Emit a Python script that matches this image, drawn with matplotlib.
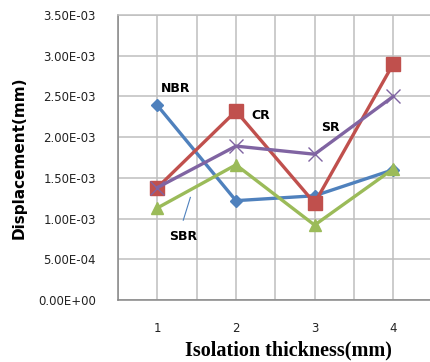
import numpy as np
import matplotlib
matplotlib.use("Agg")
import matplotlib.pyplot as plt

# values
thickness = [1, 2, 3, 4]
nbr = [2.39e-3, 1.22e-3, 1.28e-3, 1.60e-3]
cr = [1.38e-3, 2.32e-3, 1.19e-3, 2.90e-3]
sr = [1.38e-3, 1.89e-3, 1.79e-3, 2.50e-3]
sbr = [1.13e-3, 1.66e-3, 0.92e-3, 1.61e-3]
yticks = [0, 5e-4, 1e-3, 1.5e-3, 2e-3, 2.5e-3, 3e-3, 3.5e-3]
ytick_labels = ["0.00E+00", "5.00E-04", "1.00E-03", "1.50E-03",
                "2.00E-03", "2.50E-03", "3.00E-03", "3.50E-03"]

fig = plt.figure(figsize=(4.31, 3.62), dpi=100)
ax = fig.add_axes([118/431, 1 - 300/362, 1 - 118/431, 285/362])

lw = 2.4
ax.plot(thickness, nbr, color="#4F81BD", lw=lw, marker="D", ms=6, zorder=3)
ax.plot(thickness, cr, color="#C0504D", lw=lw, marker="s", ms=9.5, zorder=3)
ax.plot(thickness, sr, color="#8064A2", lw=lw, marker="x", ms=10, mew=1.0, zorder=3)
ax.plot(thickness, sbr, color="#9BBB59", lw=lw, marker="^", ms=9, zorder=3)

ax.set_xlim(0.5, 4.48)
ax.set_ylim(0, 3.5e-3)
ax.set_xticks(thickness)
ax.set_xticks([0.5, 1.5, 2.5, 3.5], minor=True)
ax.set_yticks(yticks)
ax.set_yticklabels(ytick_labels)
ax.grid(True, which="both", color="#BFBFBF", lw=1.1)
ax.set_axisbelow(True)
ax.tick_params(which="both", length=0)
ax.tick_params(axis="y", pad=16, labelsize=8.5, labelcolor="#222222")
ax.tick_params(axis="x", pad=16, labelsize=8.5, labelcolor="#222222")
for s in ["left", "bottom"]:
    ax.spines[s].set_color("#868686")
    ax.spines[s].set_linewidth(1.1)
ax.spines["top"].set_color("#BFBFBF")
ax.spines["top"].set_linewidth(1.1)
ax.spines["right"].set_visible(False)

# series labels
ax.text(1.05, 2.6e-3, "NBR", fontsize=9, fontweight="bold", va="center")
ax.text(2.2, 2.27e-3, "CR", fontsize=9, fontweight="bold", va="center")
ax.text(3.08, 2.12e-3, "SR", fontsize=9, fontweight="bold", va="center")
ax.text(1.33, 0.78e-3, "SBR", fontsize=9, fontweight="bold", va="center", ha="center")
ax.plot([1.42, 1.33], [1.26e-3, 0.98e-3], color="#4F81BD", lw=0.8)

ax.set_ylabel("Displacement(mm)", fontsize=11, fontweight="bold", labelpad=8)
fig.text(288/431, 1 - 350/362, "Isolation thickness(mm)", fontsize=14.5,
         fontweight="bold", family="Liberation Serif", ha="center", va="center")

fig.savefig("out.png", dpi=100)
